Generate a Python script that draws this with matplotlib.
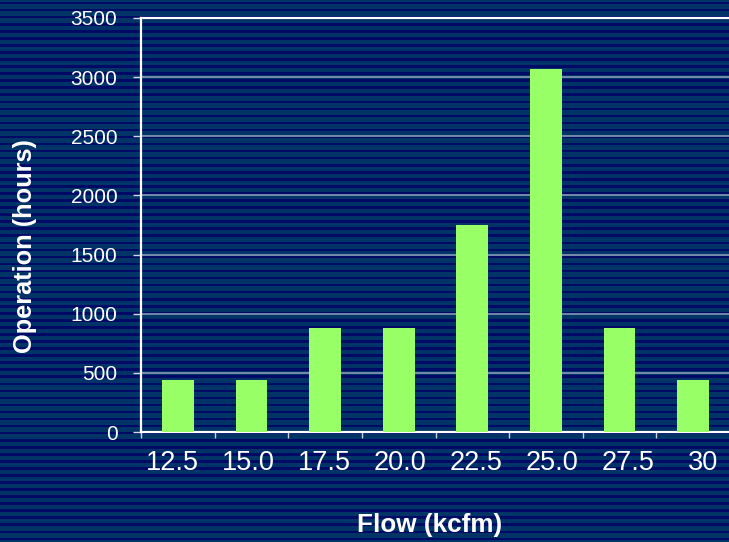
import numpy as np
import matplotlib.pyplot as plt
from matplotlib.ticker import MultipleLocator, FixedLocator

plt.rcParams['font.family'] = ['Liberation Sans', 'DejaVu Sans']

flow = ['12.5', '15.0', '17.5', '20.0', '22.5', '25.0', '27.5', '30']
hours = [438, 438, 876, 876, 1752, 3066, 876, 438]

light_blue = '#003366'
dark_blue = '#000A66'

W, H = 729, 542
fig = plt.figure(figsize=(W / 100, H / 100), dpi=100, facecolor=light_blue)

# striped slide background
bg = fig.add_axes([0, 0, 1, 1], zorder=-1)
bg.set_xlim(0, 1)
bg.set_ylim(H, 0)
bg.axis('off')
for y0 in np.arange(1.8, H, 7.05):
    bg.axhspan(y0, y0 + 2.6, color=dark_blue, lw=0)

ax = fig.add_axes([141 / W, 1 - 432 / H, 589 / W, 414 / H])
ax.set_facecolor('none')

x = np.arange(len(flow))
ax.bar(x, hours, width=0.43, color='#99FF66', zorder=3)

ax.set_xlim(-0.5, len(flow) - 0.5)
ax.set_ylim(0, 3500)
ax.yaxis.set_major_locator(MultipleLocator(500))
ax.grid(axis='y', color='#8A9CB6', lw=1.2)
ax.set_axisbelow(True)

# category labels are spread a little wider than the categories themselves
ax.set_xticks(-0.07 + 1.03 * x)
ax.set_xticklabels(flow)
ax.xaxis.set_minor_locator(FixedLocator(np.arange(-0.5, len(flow), 1.0)))
ax.tick_params(axis='x', which='major', length=0, pad=13, labelsize=19.5, labelcolor='white')
ax.tick_params(axis='x', which='minor', length=4.5, width=1, color='#C8D0DC')
ax.tick_params(axis='y', length=6, width=1, color='#D0D8E4', pad=11, labelsize=15, labelcolor='white')

for side in ['left', 'bottom', 'top']:
    ax.spines[side].set_color('white')
    ax.spines[side].set_linewidth(1.6)
ax.spines['right'].set_visible(False)

fig.text(25 / W, 1 - 246 / H, 'Operation (hours)', rotation=90, ha='center', va='center',
         color='white', fontsize=18.3, fontweight='bold')
fig.text(430 / W, 1 - 525 / H, 'Flow (kcfm)', ha='center', va='center',
         color='white', fontsize=18.8, fontweight='bold')

fig.savefig('out.png', dpi=100, facecolor=fig.get_facecolor())
